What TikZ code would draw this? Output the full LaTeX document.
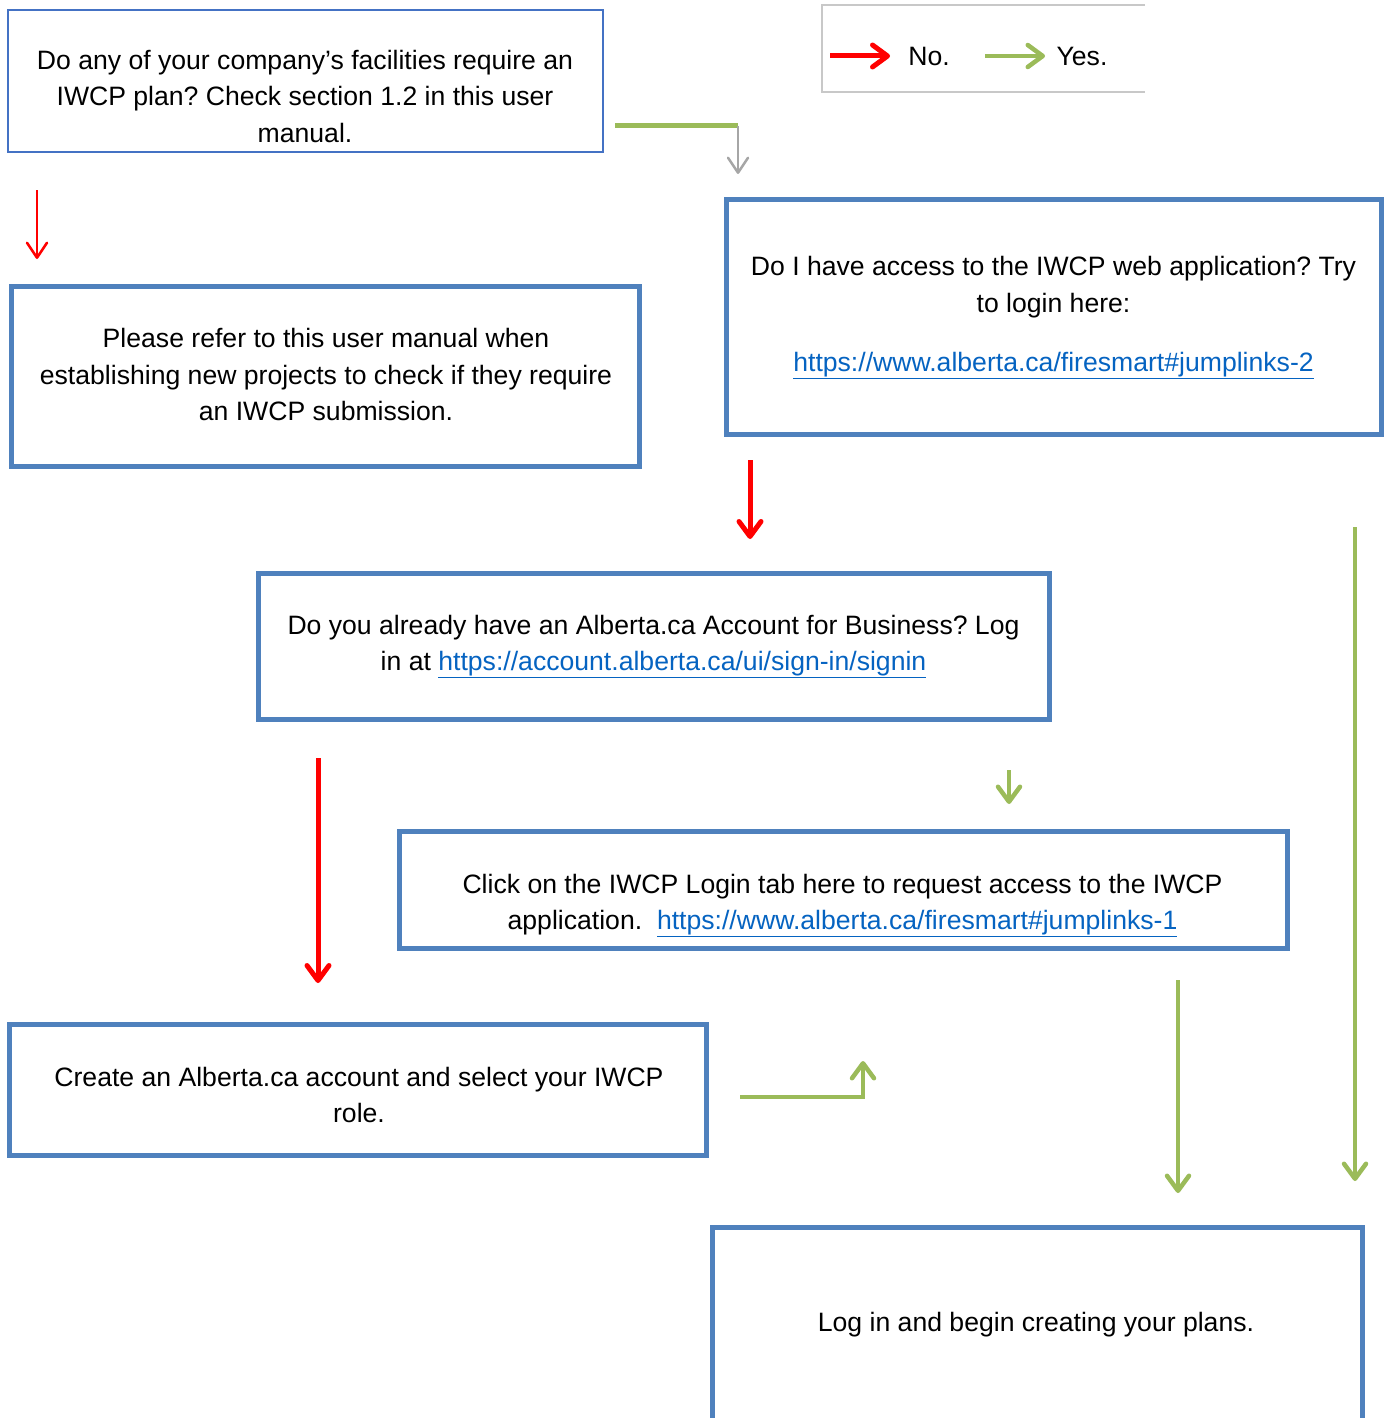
\documentclass[tikz,border=0pt]{standalone}
\usepackage{fontspec}
\setmainfont{Liberation Sans}
\usetikzlibrary{arrows.meta,positioning}
\definecolor{boxblue}{HTML}{4F81BD}
\definecolor{topblue}{HTML}{4472C4}
\definecolor{norred}{HTML}{FF0000}
\definecolor{yesgreen}{HTML}{9BBB59}
\definecolor{linkblue}{HTML}{0563C1}
\definecolor{tipgray}{HTML}{A6A6A6}
\definecolor{framegray}{HTML}{C8C8C8}
\newcommand{\weblink}[1]{\textcolor{linkblue}{\underline{#1}}}
\frenchspacing

\begin{document}
\begin{tikzpicture}[x=1pt,y=-1pt,
    box/.style={draw=boxblue, line width=5pt, rectangle, inner sep=0pt},
    txt/.style={align=center, font=\fontsize{26.6pt}{36.5pt}\selectfont, inner sep=0pt, anchor=base},
    noarr/.style={draw=norred, line width=5pt, -{Straight Barb[length=15pt,width=22pt,round]}},
    yesarr/.style={draw=yesgreen, line width=4.5pt, -{Straight Barb[length=15pt,width=22pt,round]}},
    thinarr/.style={line width=2.5pt, -{Straight Barb[length=15pt,width=20pt,round]}}]
    \useasboundingbox (0,0) rectangle (1384,1418);

    % Boxes
    \node[box, draw=topblue, line width=2.5pt, minimum width=595pt, minimum height=142pt] (facil) at (305.5,81) {};
    \node[box, minimum width=628pt, minimum height=180pt] (refer) at (325,376) {};
    \node[box, minimum width=655pt, minimum height=235pt] (access) at (1053.5,316.5) {};
    \node[box, minimum width=791pt, minimum height=146pt] (account) at (653.5,646) {};
    \node[box, minimum width=888pt, minimum height=117pt] (request) at (843,889.5) {};
    \node[box, minimum width=697pt, minimum height=131pt] (create) at (357.5,1089.5) {};
    \node[box, minimum width=650pt, minimum height=240pt] (login) at (1037,1347.5) {};

    % Texts (anchored at the baseline of the last line)
    \node[txt] (facilt) at (305,142.5) {Do any of your company’s facilities require an\\ IWCP plan? Check section 1.2 in this user\\ manual.};
    \node[txt] (refert) at (326,420.5) {Please refer to this user manual when\\ establishing new projects to check if they require\\ an IWCP submission.};
    \node[txt] (accesst) at (1053.5,371.5) {Do I have access to the IWCP web application? Try\\ to login here:\\[23pt] \weblink{https://www.alberta.ca/firesmart\#jumplinks-2}};
    \node[txt] (accountt) at (653.5,670.5) {Do you already have an Alberta.ca Account for Business? Log\\ in at \weblink{https://account.alberta.ca/ui/sign-in/signin}};
    \node[txt] (requestt) at (842.5,929.5) {Click on the IWCP Login tab here to request access to the IWCP\\ application.\ \ \weblink{https://www.alberta.ca/firesmart\#jumplinks-1}};
    \node[txt] (createt) at (359,1122.5) {Create an Alberta.ca account and select your IWCP\\ role.};
    \node[txt] (logint) at (1036,1331.5) {Log in and begin creating your plans.};

    % Legend
    \draw[framegray, line width=1.5pt] (1145,5) -- (822,5) -- (822,92) -- (1145,92);
    \coordinate (nofrom) at (830,56);
    \coordinate (noto) at (890,56);
    \coordinate (yesfrom) at (985,56);
    \coordinate (yesto) at (1045,56);
    \draw[noarr] (nofrom) -- (noto);
    \node[txt] (nolbl) at (929,65.5) {No.};
    \draw[yesarr] (yesfrom) -- (yesto);
    \node[txt] (yeslbl) at (1082,65.5) {Yes.};

    % Connectors
    \coordinate (a1) at (37,190);   \coordinate (a2) at (37,259);
    \coordinate (b1) at (615,126);  \coordinate (b2) at (738,126);  \coordinate (b3) at (738,174);
    \coordinate (c1) at (750,460);  \coordinate (c2) at (750,539);
    \coordinate (d1) at (1355,527); \coordinate (d2) at (1355,1181);
    \coordinate (e1) at (1009,770); \coordinate (e2) at (1009,804);
    \coordinate (f1) at (318,758);  \coordinate (f2) at (318,983);
    \coordinate (g1) at (1178,980); \coordinate (g2) at (1178,1193);
    \coordinate (h1) at (740,1097); \coordinate (h2) at (863,1097); \coordinate (h3) at (863,1061);

    \draw[thinarr, draw=norred] (a1) -- (a2);
    \draw[yesgreen, line width=5pt] (b1) -- (b2);
    \draw[thinarr, draw=tipgray] (b2) -- (b3);
    \draw[noarr] (c1) -- (c2);
    \draw[yesarr] (d1) -- (d2);
    \draw[yesarr] (e1) -- (e2);
    \draw[noarr] (f1) -- (f2);
    \draw[yesarr] (g1) -- (g2);
    \draw[yesarr] (h1) -- (h2) -- (h3);
\end{tikzpicture}
\end{document}
